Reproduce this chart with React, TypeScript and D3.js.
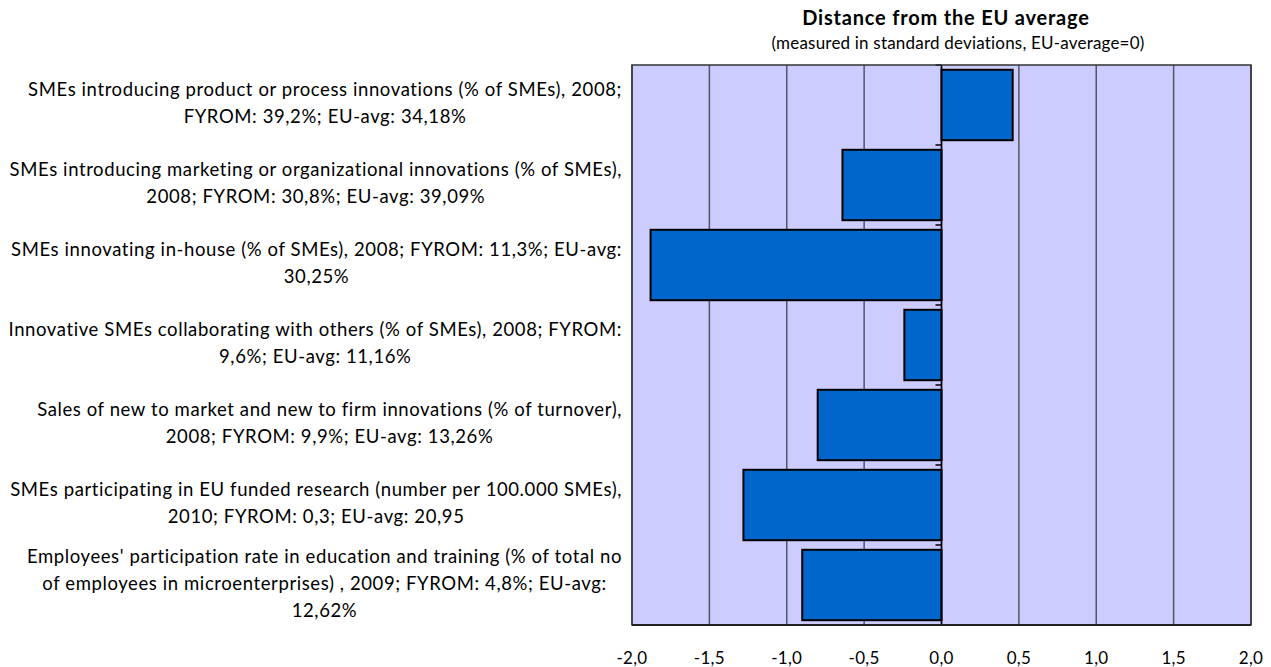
import React, { useEffect, useRef } from "react";
import * as d3 from "d3";

// indicator labels, already split into lines as in the original
const labels: string[][] = [
  ["SMEs introducing product or process innovations (% of SMEs), 2008;", "FYROM: 39,2%; EU-avg: 34,18%"],
  ["SMEs introducing marketing or organizational innovations (% of SMEs),", "2008; FYROM: 30,8%; EU-avg: 39,09%"],
  ["SMEs innovating in-house (% of SMEs), 2008; FYROM: 11,3%; EU-avg:", "30,25%"],
  ["Innovative SMEs collaborating with others (% of SMEs), 2008; FYROM:", "9,6%; EU-avg: 11,16%"],
  ["Sales of new to market and new to firm innovations (% of turnover),", "2008; FYROM: 9,9%; EU-avg: 13,26%"],
  ["SMEs participating in EU funded research (number per 100.000 SMEs),", "2010; FYROM: 0,3; EU-avg: 20,95"],
  [
    "Employees' participation rate in education and training (% of total no",
    "of employees in microenterprises) , 2009; FYROM: 4,8%; EU-avg:",
    "12,62%",
  ],
];

// distance from EU average, in standard deviations
const distances = [0.46, -0.64, -1.88, -0.24, -0.8, -1.28, -0.9];

const xTicks = [-2, -1.5, -1, -0.5, 0, 0.5, 1, 1.5, 2];

const FONT = "Lato, 'DejaVu Sans', sans-serif";

export default function App() {
  const svgRef = useRef<SVGSVGElement>(null);

  useEffect(() => {
    const width = 1271;
    const height = 667;
    const left = 632;
    const right = 1251;
    const top = 65;
    const bottom = 625;

    const svg = d3.select(svgRef.current).attr("width", width).attr("height", height);
    svg.selectAll("*").remove();

    const x = d3.scaleLinear().domain([-2, 2]).range([left, right]);
    const y = d3
      .scaleBand<number>()
      .domain(d3.range(labels.length))
      .range([top, bottom])
      .paddingInner(0.12)
      .paddingOuter(0.06);
    const band = d3.scaleBand<number>().domain(d3.range(labels.length)).range([top, bottom]);

    // plot background
    svg
      .append("rect")
      .attr("x", left)
      .attr("y", top)
      .attr("width", right - left)
      .attr("height", bottom - top)
      .attr("fill", "#ccccff");

    // vertical gridlines
    svg
      .append("g")
      .selectAll("line")
      .data(xTicks)
      .join("line")
      .attr("x1", (d) => x(d))
      .attr("x2", (d) => x(d))
      .attr("y1", top)
      .attr("y2", bottom)
      .attr("stroke", "#555566")
      .attr("stroke-width", 1.5);

    // bars
    svg
      .append("g")
      .selectAll("rect")
      .data(distances)
      .join("rect")
      .attr("x", (d) => x(Math.min(0, d)))
      .attr("y", (d, i) => y(i)!)
      .attr("width", (d) => Math.abs(x(d) - x(0)))
      .attr("height", y.bandwidth())
      .attr("fill", "#0066cc")
      .attr("stroke", "#000")
      .attr("stroke-width", 2);

    // category axis at zero
    const catTicks = d3.range(labels.length + 1).map((i) => top + i * band.step());
    svg
      .append("g")
      .selectAll("line")
      .data(catTicks)
      .join("line")
      .attr("x1", x(0) - 6)
      .attr("x2", x(0))
      .attr("y1", (d) => d)
      .attr("y2", (d) => d)
      .attr("stroke", "#000")
      .attr("stroke-width", 1.5);
    svg
      .append("line")
      .attr("x1", x(0))
      .attr("x2", x(0))
      .attr("y1", top)
      .attr("y2", bottom)
      .attr("stroke", "#000")
      .attr("stroke-width", 1.5);

    // plot frame
    svg
      .append("rect")
      .attr("x", left)
      .attr("y", top)
      .attr("width", right - left)
      .attr("height", bottom - top)
      .attr("fill", "none")
      .attr("stroke", "#333")
      .attr("stroke-width", 1.5);
    svg
      .append("line")
      .attr("x1", left)
      .attr("x2", right)
      .attr("y1", bottom)
      .attr("y2", bottom)
      .attr("stroke", "#222")
      .attr("stroke-width", 2);

    // x tick labels
    svg
      .append("g")
      .selectAll("text")
      .data(xTicks)
      .join("text")
      .attr("x", (d) => x(d))
      .attr("y", 660)
      .attr("text-anchor", "middle")
      .attr("dominant-baseline", "middle")
      .attr("font-family", FONT)
      .attr("font-size", 17)
      .attr("letter-spacing", 0.3)
      .attr("fill", "#000")
      .text((d) => d3.format(".1f")(d).replace(".", ",").replace("−", "-"));

    // category labels: each block centred on itself, right edge near the plot
    const lineH = 27;
    labels.forEach((lines, i) => {
      const cy = band(i)! + band.bandwidth() / 2;
      const g = svg.append("g");
      lines.forEach((t, j) => {
        g.append("text")
          .attr("x", 0)
          .attr("y", cy + (j - (lines.length - 1) / 2) * lineH)
          .attr("text-anchor", "middle")
          .attr("dominant-baseline", "middle")
          .attr("font-family", FONT)
          .attr("font-size", 18.5)
          .attr("letter-spacing", 0.6)
          .attr("fill", "#000")
          .text(t);
      });
      const w = (g.node() as SVGGElement).getBBox().width;
      g.attr("transform", `translate(${622 - w / 2},0)`);
    });

    // titles
    svg
      .append("text")
      .attr("x", 946)
      .attr("y", 20)
      .attr("text-anchor", "middle")
      .attr("dominant-baseline", "middle")
      .attr("font-family", FONT)
      .attr("font-weight", "bold")
      .attr("font-size", 20)
      .attr("letter-spacing", 0.8)
      .text("Distance from the EU average");
    svg
      .append("text")
      .attr("x", 958)
      .attr("y", 45)
      .attr("text-anchor", "middle")
      .attr("dominant-baseline", "middle")
      .attr("font-family", FONT)
      .attr("font-size", 17)
      .attr("letter-spacing", 0.2)
      .text("(measured in standard deviations, EU-average=0)");
  }, []);

  return <svg ref={svgRef} style={{ position: "absolute", left: 0, top: 0 }}></svg>;
}
